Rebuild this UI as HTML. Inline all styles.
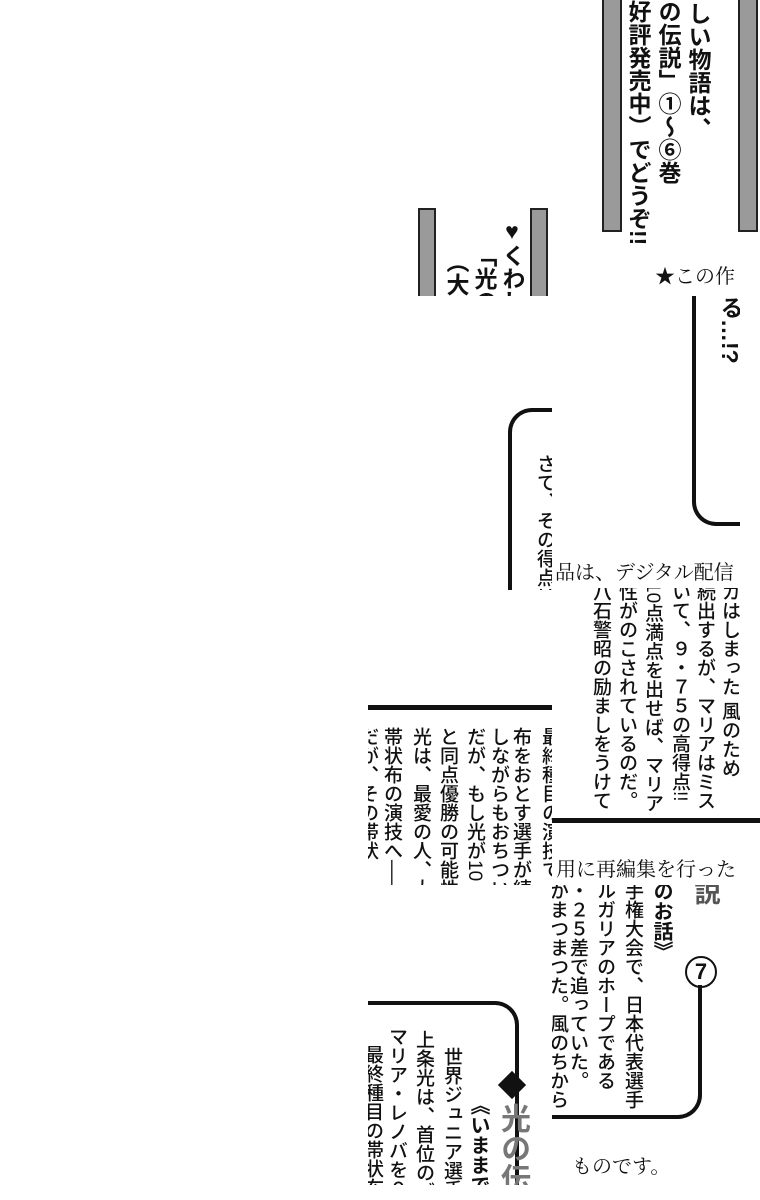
<!DOCTYPE html>
<html><head><meta charset="utf-8">
<style>
html,body{margin:0;padding:0;background:#fff;}
body{width:760px;height:1200px;position:relative;overflow:hidden;font-family:"Liberation Sans","Noto Sans CJK JP",sans-serif;color:#111;}
.t{position:absolute;overflow:hidden;}
.a{position:absolute;}
.bar{position:absolute;background:#9a9a9a;border:2px solid #222;box-sizing:border-box;}
.v{position:absolute;writing-mode:vertical-rl;white-space:nowrap;line-height:1;}
.big{font-size:23px;font-weight:bold;}
.mid{font-size:19px;font-weight:500;}
.h{position:absolute;font-family:"Liberation Serif","Noto Serif CJK SC",serif;font-size:20px;white-space:nowrap;}
.ln{position:absolute;background:#111;}
.fr{position:absolute;border:4px solid #111;box-sizing:border-box;}
</style></head><body>
<!-- top tile -->
<div class="t" style="left:415px;top:0;width:345px;height:296px">
<div class="bar" style="left:187px;top:-4px;width:20px;height:236px"></div>
<div class="bar" style="left:323px;top:-4px;width:20px;height:236px"></div>
<div class="bar" style="left:3px;top:208px;width:18px;height:100px"></div>
<div class="bar" style="left:115px;top:208px;width:18px;height:100px"></div>
<div class="v big" style="left:271px;top:2px">しい物語は、</div>
<div class="v big" style="left:241px;top:0px">の伝説」①～⑥巻</div>
<div class="v big" style="left:211px;top:0px">好評発売中）でどうぞ!!</div>
<div class="v big" style="left:85px;top:218px">♥くわし</div>
<div class="v big" style="left:57px;top:244px">「光の</div>
<div class="v big" style="left:29px;top:250px">（大好</div>
</div>
<div class="h" style="left:655px;top:260px">★この作</div>

<!-- frame tile right -->
<div class="t" style="left:552px;top:296px;width:188px;height:258px">
<div class="fr" style="left:140px;top:-20px;width:80px;height:250px;border-radius:0 0 0 24px;border-top:none;border-right:none"></div>
<div class="v big" style="left:166px;top:0px">る…!?</div>
</div>
<!-- さて tile -->
<div class="t" style="left:505px;top:400px;width:47px;height:190px">
<div class="fr" style="left:3px;top:8px;width:80px;height:200px;border-radius:24px 0 0 0;border-bottom:none;border-right:none"></div>
<div class="v mid" style="left:30px;top:54px">さて、その得点は、</div>
</div>
<div class="h" style="left:555px;top:556px">品は、デジタル配信</div>

<!-- mid right -->
<div class="t" style="left:552px;top:588px;width:188px;height:230px">
<div class="v mid" style="left:168px;top:-6px">ガはしまった 風のため</div>
<div class="v mid" style="left:143px;top:-6px">続出するが、マリアはミス</div>
<div class="v mid" style="left:118px;top:-6px">いて、９・７５の高得点!!</div>
<div class="v mid" style="left:91px;top:-6px">10点満点を出せば、マリア</div>
<div class="v mid" style="left:65px;top:-6px">性がのこされているのだ。</div>
<div class="v mid" style="left:39px;top:-6px">八石警昭の励ましをうけて</div>
</div>
<div class="ln" style="left:552px;top:818px;width:208px;height:5px"></div>

<!-- mid left -->
<div class="t" style="left:368px;top:590px;width:184px;height:295px">
<div class="ln" style="left:0;top:115px;width:184px;height:5px"></div>
<div class="v mid" style="left:172px;top:137px">最終種目の演技で、</div>
<div class="v mid" style="left:143px;top:137px">布をおとす選手が続</div>
<div class="v mid" style="left:121px;top:137px">しながらもおちつい</div>
<div class="v mid" style="left:97px;top:137px">だが、もし光が10</div>
<div class="v mid" style="left:70px;top:137px">と同点優勝の可能性</div>
<div class="v mid" style="left:43px;top:137px">光は、最愛の人、大</div>
<div class="v mid" style="left:14px;top:137px">帯状布の演技へ──</div>
<div class="v mid" style="left:-10px;top:137px">だが、その帯状</div>
</div>
<div class="h" style="left:556px;top:853px">用に再編集を行った</div>

<!-- bottom right -->
<div class="t" style="left:552px;top:885px;width:188px;height:262px">
<div class="v big" style="left:141px;top:-6px;font-size:26px;color:#555">説</div>
<div class="a" style="left:133px;top:71px;width:28px;height:28px;border:2.5px solid #111;border-radius:50%;font-size:22px;font-weight:bold;text-align:center;line-height:28px;">7</div>
<div class="v big" style="left:99px;top:-4px;font-size:20px">のお話》</div>
<div class="v mid" style="left:71px;top:-4px">手権大会で、日本代表選手</div>
<div class="v mid" style="left:43px;top:-4px">ルガリアのホープである</div>
<div class="v mid" style="left:16px;top:-4px">・２５差で追っていた。</div>
<div class="v mid" style="left:-4px;top:-4px">がまつまつた。風のちから</div>
<div class="fr" style="left:-20px;top:100px;width:170px;height:134px;border-radius:0 0 24px 0;border-top:none;border-left:none"></div>
</div>
<div class="h" style="left:572px;top:1150px">ものです。</div>

<!-- bottom left -->
<div class="t" style="left:368px;top:885px;width:184px;height:300px">
<div class="fr" style="left:-20px;top:116px;width:171px;height:200px;border-radius:0 24px 0 0;border-bottom:none;border-left:none"></div>
<div class="a" style="left:134px;top:190px;width:20px;height:20px;background:#111;transform:rotate(45deg)"></div>
<div class="v big" style="left:129px;top:218px;font-size:30px;color:#777">光の伝</div>
<div class="v big" style="left:100px;top:210px;font-size:20px">《いままでの</div>
<div class="v mid" style="left:74px;top:162px">世界ジュニア選手</div>
<div class="v mid" style="left:46px;top:145px">上条光は、首位のブ</div>
<div class="v mid" style="left:19px;top:142px">マリア・レノバを０</div>
<div class="v mid" style="left:-5px;top:160px">最終種目の帯状布</div>
</div>
</body></html>
